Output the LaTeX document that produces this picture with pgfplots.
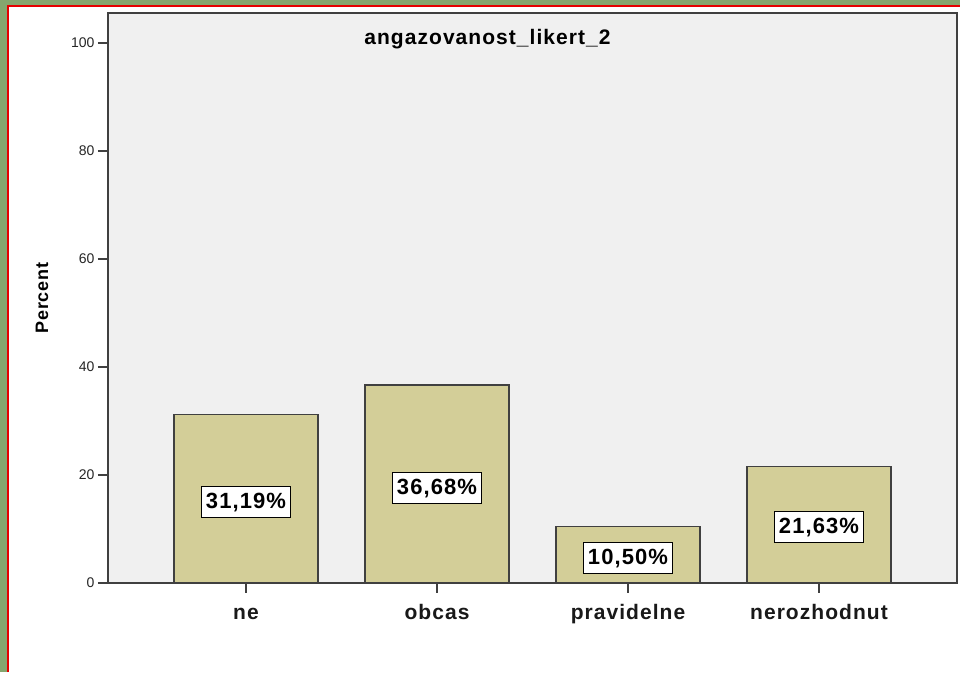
\documentclass[border=0pt]{standalone}
\usepackage{fontspec}
\setmainfont{Liberation Sans}
\newfontfamily\spss[LetterSpace=5]{Liberation Sans}
\usepackage{pgfplots}
\usepackage{pgfplotstable}
\pgfplotsset{compat=1.18}
\definecolor{bordergreen}{RGB}{133,166,110}
\definecolor{barfill}{RGB}{211,206,152}
\definecolor{plotbg}{RGB}{240,240,240}
\definecolor{axisgray}{RGB}{64,64,64}
\pgfplotstableread{
x y
0 31.19
1 36.68
2 10.50
3 21.63
}\bars
\pgfplotstableread{
x y lab
0 15.09 {31,19\%}
1 17.60 {36,68\%}
2 4.72 {10,50\%}
3 10.28 {21,63\%}
}\labs
\begin{document}
\begin{tikzpicture}[x=1pt,y=1pt]
\path[use as bounding box] (0,0) rectangle (960,672);
\fill[bordergreen] (0,0) rectangle (960,672);
\fill[white] (8,0) rectangle (960,666);
\draw[red!90!black, line width=1.5pt] (8,0) -- (8,666) -- (960,666);
\begin{axis}[
  at={(108pt,89pt)}, anchor=south west,
  scale only axis, width=849pt, height=570pt,
  xmin=-0.7225, xmax=3.7225, ymin=0, ymax=105.56,
  axis background/.style={fill=plotbg},
  axis line style={axisgray, line width=1.5pt},
  tick style={axisgray, line width=1.3pt},
  tick align=outside, major tick length=10pt,
  xtick={0,1,2,3}, xticklabels={ne,obcas,pravidelne,nerozhodnut},
  ytick={0,20,40,60,80,100},
  xtick pos=bottom, ytick pos=left,
  /pgf/number format/assume math mode=true,
  yticklabel style={font=\fontsize{14}{14}\selectfont, text=black!85},
  xticklabel style={font=\spss\bfseries\fontsize{21}{21}\selectfont, text=black!90,
    anchor=north, text height=15pt, text depth=5pt, yshift=-8pt},
  title={\spss\bfseries\fontsize{21}{21}\selectfont angazovanost\_likert\_2},
  title style={at={(rel axis cs:0.447,0.944)}, anchor=center},
  ylabel={\spss\bfseries\fontsize{18}{18}\selectfont Percent},
  ylabel style={at={(rel axis cs:-0.0777,0.5)}, anchor=center, rotate=0},
]
\addplot[ybar, bar shift=0pt, bar width=0.754, fill=barfill, draw=axisgray, line width=1.2pt] table[x=x,y=y] {\bars};
\addplot[only marks, mark=none, nodes near coords, point meta=explicit symbolic,
  nodes near coords style={anchor=center, fill=white, draw=black, line width=1pt,
    font=\spss\bfseries\fontsize{22}{22}\selectfont, inner xsep=4pt,
    text height=16pt, text depth=3pt, inner ysep=6pt}]
  table[x=x,y=y,meta=lab] {\labs};
\end{axis}
\end{tikzpicture}
\end{document}
